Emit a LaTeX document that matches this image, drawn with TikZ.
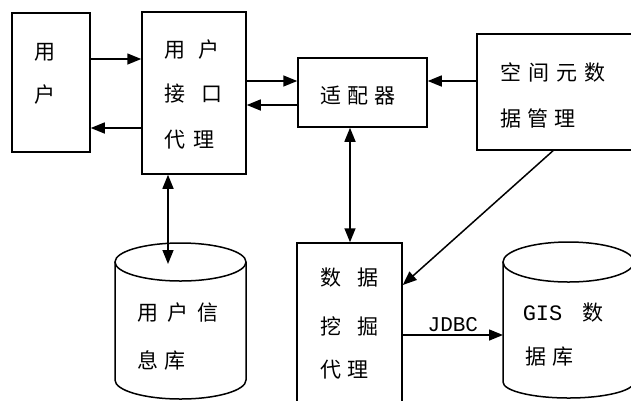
\documentclass[tikz,border=0pt]{standalone}
\usepackage{fontspec}
\newfontfamily\cjk{Noto Sans CJK SC}
\newfontfamily\monof{Liberation Mono}
\usetikzlibrary{arrows.meta}
\begin{document}
\begin{tikzpicture}[x=1pt,y=-1pt,line width=1.5pt,
  box/.style={draw,rectangle,inner sep=0pt},
  lbl/.style={anchor=west,inner sep=0pt,font=\cjk\fontsize{21}{21}\selectfont},
  arr/.style={-{Triangle[length=14pt,width=11pt]}},
  darr/.style={{Triangle[length=14pt,width=11pt]}-{Triangle[length=14pt,width=11pt]}},
  dbarea/.style={inner sep=0pt,outer sep=0pt}]
\useasboundingbox (0,0) rectangle (631,400);
\clip (0,0) rectangle (631,400);
% level coordinates
\coordinate (y59) at (0,59);
\coordinate (y128) at (0,128);
\coordinate (y81) at (0,81);
\coordinate (y105) at (0,105);
\coordinate (y285) at (0,285);
\coordinate (y335) at (0,335);
\coordinate (x350) at (350,0);
\coordinate (x553) at (553,0);
% boxes
\node[box,minimum width=78pt,minimum height=139pt] (u) at (51,82.5) {};
\node[box,minimum width=104pt,minimum height=162pt] (ua) at (194,93) {};
\node[box,minimum width=129pt,minimum height=69pt] (ad) at (362.5,92.5) {};
\node[box,minimum width=168pt,minimum height=116pt] (sm) at (561,92) {};
\node[box,minimum width=105pt,minimum height=174pt] (dm) at (349.5,330) {};
% cylinders
\node[dbarea,minimum width=131pt,minimum height=156pt] (db1) at (180.5,321) {};
\draw (180.5,262) ellipse [x radius=65.5pt,y radius=19pt];
\draw (115,262) -- (115,380) arc[start angle=180,end angle=360,x radius=65.5pt,y radius=19pt] -- (246,262);
\node[dbarea,minimum width=131pt,minimum height=156pt] (db2) at (568.5,320) {};
\draw (568.5,262) ellipse [x radius=65.5pt,y radius=20pt];
\draw (503,262) -- (503,382) arc[start angle=180,end angle=360,x radius=65.5pt,y radius=16pt] -- (634,262);
\coordinate (db1top) at (168,264);
% texts
\node[lbl] (t1) at (34,52) {用};
\node[lbl] (t2) at (34,95) {户};
\node[lbl] (t3) at (164,50) {用\hspace{13pt}户};
\node[lbl] (t4) at (164,94) {接\hspace{16pt}口};
\node[lbl] (t5) at (164,140) {代\hspace{8pt}理};
\node[lbl] (t6) at (320,96) {适\hspace{6pt}配\hspace{6pt}器};
\node[lbl] (t7) at (500,72) {空\hspace{7pt}间\hspace{7pt}元\hspace{7pt}数};
\node[lbl] (t8) at (500,118) {据\hspace{6pt}管\hspace{6pt}理};
\node[lbl] (t9) at (137,313) {用\hspace{9pt}户\hspace{9pt}信};
\node[lbl] (t10) at (137,360) {息\hspace{6pt}库};
\node[lbl] (t11) at (320,278) {数\hspace{16pt}据};
\node[lbl] (t12) at (320,326) {挖\hspace{16pt}掘};
\node[lbl] (t13) at (320,370) {代\hspace{6pt}理};
\node[lbl] (t14) at (522,313) {{\monof\fontsize{22}{22}\selectfont GIS}\hspace{20pt}数};
\node[lbl] (t15) at (525,357) {据\hspace{6pt}库};
% connectors
\draw[arr] (u.east |- y59) -- (ua.west |- y59);
\draw[arr] (ua.west |- y128) -- (u.east |- y128);
\draw[arr] (ua.east |- y81) -- (ad.west |- y81);
\draw[arr] (ad.west |- y105) -- (ua.east |- y105);
\draw[arr] (sm.west |- y81) -- (ad.east |- y81);
\draw[darr] (ua.south -| db1top) -- (db1top);
\draw[darr] (ad.south -| x350) -- (dm.north -| x350);
\draw[arr] (sm.south -| x553) -- (dm.east |- y285);
\draw[arr] (dm.east |- y335) -- node[above=3pt,inner sep=0pt,font=\monof\fontsize{21}{21}\selectfont] (jd) {JDBC} (db2.west |- y335);
\end{tikzpicture}
\end{document}
